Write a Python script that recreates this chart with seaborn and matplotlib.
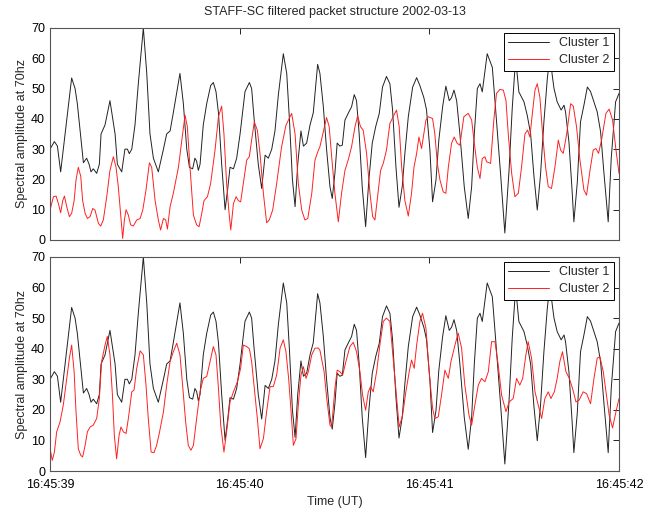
import pandas as pd
import seaborn as sns
import matplotlib
matplotlib.use("Agg")
import matplotlib.pyplot as plt

# (seconds after 16:45:39 UT, spectral amplitude)
cluster1 = [
    (0.000, 30), (0.023, 32.5), (0.039, 31), (0.056, 22.5), (0.114, 53.5), (0.132, 50),
    (0.144, 45), (0.176, 25.5), (0.193, 27), (0.206, 25), (0.216, 22.5), (0.228, 23.5),
    (0.246, 22), (0.260, 25), (0.269, 35), (0.290, 38), (0.316, 46), (0.343, 35),
    (0.355, 25), (0.378, 22.5), (0.395, 30), (0.408, 30), (0.418, 28.5), (0.431, 30),
    (0.448, 38), (0.466, 52), (0.492, 70), (0.510, 55), (0.527, 35), (0.545, 27),
    (0.571, 22.5), (0.598, 30), (0.615, 35), (0.633, 36), (0.650, 42), (0.685, 55),
    (0.703, 45), (0.721, 30), (0.735, 24), (0.752, 23.5), (0.764, 27), (0.773, 26),
    (0.782, 23), (0.791, 25), (0.808, 38), (0.826, 45), (0.847, 51), (0.861, 52),
    (0.875, 49), (0.888, 42), (0.905, 25), (0.923, 10), (0.937, 17), (0.949, 24),
    (0.967, 23.5), (0.984, 27), (1.002, 35), (1.028, 49), (1.051, 52), (1.063, 50),
    (1.076, 40), (1.098, 25), (1.116, 17), (1.134, 28), (1.151, 27), (1.169, 30),
    (1.186, 36), (1.204, 48), (1.230, 61.5), (1.248, 55), (1.262, 40), (1.278, 20),
    (1.292, 11), (1.306, 25), (1.323, 36), (1.336, 31), (1.353, 32), (1.371, 38),
    (1.388, 42), (1.411, 58), (1.423, 55), (1.441, 44), (1.458, 30), (1.476, 17.6),
    (1.488, 13.7), (1.502, 22), (1.514, 32), (1.528, 31), (1.541, 31.3), (1.555, 39.6),
    (1.572, 41.8), (1.590, 44), (1.604, 48), (1.616, 46), (1.630, 35), (1.646, 17.6),
    (1.664, 4.4), (1.681, 19.8), (1.699, 32), (1.717, 37.4), (1.736, 41.8), (1.753, 50.5),
    (1.774, 54), (1.792, 51.6), (1.806, 43), (1.824, 24), (1.840, 10.8), (1.857, 17.6),
    (1.871, 28.6), (1.889, 40.7), (1.912, 50.5), (1.933, 53.6), (1.950, 51), (1.971, 47),
    (1.985, 43), (2.003, 29.7), (2.017, 12.6), (2.035, 19.8), (2.050, 33), (2.070, 44),
    (2.087, 50.8), (2.105, 46), (2.117, 47), (2.130, 49.5), (2.144, 46), (2.161, 35),
    (2.184, 17.6), (2.205, 7.1), (2.223, 17.6), (2.237, 35), (2.253, 50), (2.267, 51.6),
    (2.279, 48.9), (2.305, 61.5), (2.332, 57), (2.349, 43.5), (2.376, 21.4), (2.398, 2.3),
    (2.420, 22.8), (2.437, 43.5), (2.455, 60), (2.472, 48.9), (2.499, 45.6), (2.516, 41.2),
    (2.534, 35), (2.551, 21.4), (2.569, 9.9), (2.586, 21.4), (2.604, 39), (2.622, 53.3),
    (2.636, 61), (2.648, 54.4), (2.657, 50.1), (2.674, 45.6), (2.695, 42.9), (2.710, 44.5),
    (2.718, 42.3), (2.736, 32.4), (2.753, 15.9), (2.762, 6), (2.780, 19), (2.797, 39),
    (2.815, 44.5), (2.833, 50.5), (2.850, 49), (2.868, 45.6), (2.885, 42.3), (2.903, 35.7),
    (2.920, 22.5), (2.943, 6), (2.959, 27), (2.982, 45.6), (3.000, 48.4),
]

cluster2_top = [
    (0.000, 9.9), (0.018, 14.3), (0.032, 14.5), (0.044, 12), (0.056, 9), (0.067, 13),
    (0.076, 14.5), (0.088, 11), (0.102, 7.7), (0.114, 8.8), (0.127, 13), (0.137, 19.8),
    (0.149, 24), (0.162, 21), (0.172, 13), (0.185, 8.8), (0.197, 7.1), (0.211, 7.7),
    (0.225, 10.4), (0.237, 9.9), (0.255, 5.5), (0.267, 4.6), (0.281, 6.6), (0.299, 14.3),
    (0.316, 23), (0.334, 27.5), (0.348, 24), (0.360, 17.6), (0.373, 7.7), (0.383, 0.5),
    (0.392, 6.6), (0.401, 10), (0.413, 8.2), (0.425, 5), (0.439, 4.6), (0.457, 6.6),
    (0.475, 7.1), (0.489, 9.9), (0.506, 16.5), (0.524, 25.5), (0.536, 24), (0.554, 13),
    (0.571, 6.6), (0.583, 3.3), (0.598, 7.1), (0.610, 6.6), (0.619, 3.6), (0.633, 11),
    (0.650, 15.4), (0.677, 24), (0.699, 35), (0.712, 41.2), (0.724, 37.4), (0.738, 24),
    (0.756, 8.2), (0.773, 5), (0.786, 4.4), (0.800, 8.8), (0.812, 13), (0.830, 14.3),
    (0.847, 18.7), (0.870, 29.7), (0.888, 40.7), (0.905, 44.2), (0.917, 35), (0.931, 18.7),
    (0.944, 8.8), (0.953, 3.3), (0.967, 12), (0.981, 14.3), (0.993, 13), (1.005, 12.6),
    (1.019, 18.7), (1.037, 26.4), (1.051, 27.5), (1.063, 33), (1.077, 39), (1.093, 36.3),
    (1.107, 28.6), (1.125, 15.4), (1.142, 5.7), (1.156, 6.6), (1.174, 9.9), (1.195, 18.7),
    (1.221, 30.8), (1.244, 37.9), (1.274, 41.8), (1.292, 35), (1.309, 18.7), (1.327, 9.9),
    (1.344, 6.6), (1.359, 7.1), (1.380, 15.4), (1.397, 26.4), (1.415, 29.7), (1.423, 30.8),
    (1.458, 40.4), (1.472, 37.4), (1.485, 27.5), (1.502, 15.4), (1.520, 6), (1.537, 15.4),
    (1.555, 23), (1.572, 26.4), (1.590, 30.8), (1.608, 37.4), (1.622, 41), (1.637, 37.4),
    (1.651, 36.3), (1.669, 28.6), (1.687, 15.4), (1.701, 7.7), (1.713, 6.6), (1.731, 16.5),
    (1.743, 23), (1.757, 25.3), (1.774, 29.7), (1.792, 38.5), (1.813, 41.2), (1.827, 42.9),
    (1.841, 37.4), (1.854, 24), (1.871, 13), (1.889, 7.9), (1.906, 15.4), (1.919, 24),
    (1.933, 28.6), (1.945, 34), (1.959, 30.2), (1.971, 35), (1.982, 39.6), (1.994, 40.7),
    (2.017, 40.1), (2.029, 35), (2.042, 25.3), (2.056, 19.8), (2.073, 15.9), (2.087, 15.4),
    (2.100, 24), (2.117, 31.9), (2.131, 34), (2.147, 31.9), (2.161, 31.3), (2.182, 40.7),
    (2.205, 41.8), (2.223, 39.6), (2.235, 33), (2.253, 24), (2.267, 20.3), (2.279, 26.9),
    (2.293, 27.5), (2.302, 25.8), (2.323, 25.3), (2.340, 39.6), (2.354, 48.4), (2.372, 49.7),
    (2.390, 49.5), (2.404, 46), (2.416, 35), (2.434, 22), (2.451, 14.3), (2.469, 15.4),
    (2.486, 24), (2.504, 35), (2.518, 36.3), (2.530, 34), (2.544, 42.3), (2.557, 49.5),
    (2.569, 51.6), (2.583, 47), (2.597, 35), (2.613, 24), (2.627, 17.6), (2.644, 17),
    (2.662, 24), (2.680, 33), (2.692, 29.7), (2.706, 28.6), (2.724, 35), (2.745, 45),
    (2.759, 44.2), (2.776, 37.4), (2.794, 26.4), (2.815, 16.5), (2.829, 14.8), (2.847, 23),
    (2.864, 29.7), (2.878, 30.2), (2.892, 28.6), (2.908, 33), (2.931, 41.8), (2.948, 43.2),
    (2.966, 39.6), (2.984, 29.7), (3.000, 22),
]

cluster2_bottom = [
    (0.000, 7.3), (0.012, 3.5), (0.023, 6.2), (0.035, 12.8), (0.053, 16.1), (0.070, 21.6),
    (0.088, 30.3), (0.102, 36.9), (0.114, 41.2), (0.127, 32.5), (0.137, 19.4), (0.149, 7.3),
    (0.162, 5.1), (0.172, 4.6), (0.185, 8.4), (0.197, 12.8), (0.211, 14.4), (0.228, 15),
    (0.246, 17.2), (0.260, 23.7), (0.272, 35.8), (0.290, 41.2), (0.302, 44), (0.316, 38),
    (0.329, 24.8), (0.339, 11.7), (0.351, 4), (0.364, 11.7), (0.374, 14.4), (0.387, 12.8),
    (0.401, 12.3), (0.413, 17.2), (0.431, 25.9), (0.443, 26.5), (0.457, 33.6), (0.475, 39.3),
    (0.492, 38), (0.506, 28.1), (0.518, 17.2), (0.533, 6.2), (0.548, 6), (0.562, 8.4),
    (0.576, 12.3), (0.598, 19.4), (0.615, 28.1), (0.633, 35.8), (0.650, 39), (0.668, 41.8),
    (0.685, 38), (0.699, 28.1), (0.715, 16.1), (0.729, 8.4), (0.743, 6.8), (0.756, 8.4),
    (0.773, 17.2), (0.791, 25.9), (0.808, 30.3), (0.826, 30.9), (0.840, 34.7), (0.861, 40.7),
    (0.875, 38), (0.888, 27), (0.900, 15), (0.917, 6.2), (0.931, 12.8), (0.949, 22.6),
    (0.967, 25.9), (0.988, 29.2), (1.005, 33.6), (1.019, 41.2), (1.037, 40.7), (1.051, 40),
    (1.063, 35.8), (1.077, 27), (1.093, 17.2), (1.107, 7.3), (1.125, 10.6), (1.142, 19.4),
    (1.160, 27.6), (1.177, 27.6), (1.195, 31.4), (1.213, 40.2), (1.230, 42.9), (1.244, 39),
    (1.258, 30.3), (1.271, 19.4), (1.283, 8.4), (1.297, 10.6), (1.309, 21.6), (1.323, 31.4),
    (1.336, 34.1), (1.350, 30.3), (1.362, 32.5), (1.380, 38), (1.397, 40.2), (1.415, 40.2),
    (1.423, 39.5), (1.445, 32.5), (1.459, 23.7), (1.476, 15), (1.485, 14.4), (1.502, 27),
    (1.514, 33), (1.528, 32.5), (1.543, 31.4), (1.560, 35.8), (1.581, 40.7), (1.599, 42.1),
    (1.616, 39), (1.634, 32.5), (1.648, 24.8), (1.664, 19.9), (1.678, 25.9), (1.690, 27.6),
    (1.704, 25.9), (1.722, 32.5), (1.739, 41.2), (1.757, 48.9), (1.774, 50), (1.792, 48.9),
    (1.806, 39), (1.824, 25.9), (1.841, 14.4), (1.859, 18.3), (1.876, 25.9), (1.894, 32.5),
    (1.906, 36.3), (1.920, 33.6), (1.933, 41.2), (1.950, 48.9), (1.964, 51.6), (1.982, 46.7),
    (1.999, 32.5), (2.017, 20.5), (2.029, 17.2), (2.047, 17.7), (2.064, 24.8), (2.082, 33),
    (2.100, 30.3), (2.114, 35.8), (2.135, 41.2), (2.152, 45.1), (2.170, 40.2), (2.187, 28.1),
    (2.209, 18.3), (2.223, 15), (2.240, 21.6), (2.258, 28.1), (2.275, 30.3), (2.293, 29.2),
    (2.311, 32.5), (2.328, 42.3), (2.346, 42.3), (2.363, 34.7), (2.381, 24.8), (2.404, 19.4),
    (2.421, 22.6), (2.442, 23.7), (2.460, 30.3), (2.477, 28.1), (2.492, 30.3), (2.509, 38),
    (2.521, 42.3), (2.539, 36.9), (2.557, 25.9), (2.574, 21.6), (2.592, 17.2), (2.609, 23.7),
    (2.627, 25.9), (2.641, 23.7), (2.659, 25.9), (2.674, 30.3), (2.688, 35.8), (2.702, 39),
    (2.720, 32.5), (2.738, 30.3), (2.755, 27), (2.773, 22.6), (2.790, 23.2), (2.811, 25.9),
    (2.829, 25.3), (2.850, 22), (2.868, 30.3), (2.885, 36.9), (2.899, 37.4), (2.917, 32.5),
    (2.934, 24.8), (2.948, 18.3), (2.966, 14.1), (2.984, 19.4), (3.000, 23.7),
]

tick_pos = [0, 1, 2, 3]
tick_labels = ["16:45:39", "16:45:40", "16:45:41", "16:45:42"]

sns.set_style("white")
plt.rcParams["font.family"] = ["Liberation Sans", "DejaVu Sans"]
plt.rcParams["font.size"] = 9

fig = plt.figure(figsize=(6.54, 5.08), dpi=100)
ax_top = fig.add_axes([0.0765, 0.5276, 0.870, 0.4173])
ax_bot = fig.add_axes([0.0765, 0.0728, 0.870, 0.4213])

c1 = pd.DataFrame(cluster1, columns=["t", "v"])
for ax, pts in [(ax_top, cluster2_top), (ax_bot, cluster2_bottom)]:
    c2 = pd.DataFrame(pts, columns=["t", "v"])
    sns.lineplot(data=c1, x="t", y="v", ax=ax, color="#222222", linewidth=0.7,
                 sort=False, estimator=None, label="Cluster 1")
    sns.lineplot(data=c2, x="t", y="v", ax=ax, color="#ff2020", linewidth=0.7,
                 sort=False, estimator=None, label="Cluster 2")
    ax.set_xlim(0, 3)
    ax.set_ylim(0, 70)
    ax.set_yticks(range(0, 71, 10))
    ax.set_xticks(tick_pos)
    ax.set_ylabel("Spectral amplitude at 70hz", fontsize=9, labelpad=2)
    ax.tick_params(direction="in", top=True, right=True, length=4, width=0.6,
                   labelsize=9, colors="black")
    ax.tick_params(axis="x", pad=6)
    for s in ax.spines.values():
        s.set_color("#555555")
        s.set_linewidth(0.8)
    leg = ax.legend(loc="upper right", fontsize=9, frameon=True, fancybox=False,
                    framealpha=1, handlelength=3.3, borderaxespad=0.4, borderpad=0.35,
                    labelspacing=0.4, handletextpad=0.8)
    leg.get_frame().set_edgecolor("black")
    leg.get_frame().set_linewidth(0.7)

ax_top.set_xticklabels([])
ax_top.set_xlabel("")
ax_top.set_title("STAFF-SC filtered packet structure 2002-03-13", fontsize=9, pad=9)
ax_bot.set_xticklabels(tick_labels)
ax_bot.set_xlabel("Time (UT)", fontsize=9, labelpad=3)

fig.savefig("out.png", dpi=100)
